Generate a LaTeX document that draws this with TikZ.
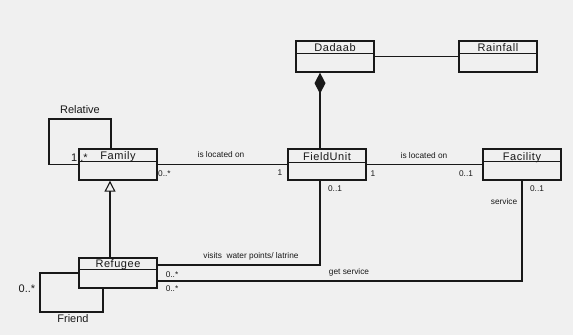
\documentclass[tikz,border=0pt]{standalone}
\usepackage{fontspec}
\setmainfont{Liberation Sans}
\newfontfamily\clsfont[LetterSpace=5]{Liberation Sans}
\usetikzlibrary{arrows.meta}
\definecolor{bg}{RGB}{240,240,240}
\definecolor{ink}{RGB}{25,25,25}
\tikzset{
  cls/.style={draw=ink, line width=1.4pt, minimum width=78pt, inner sep=0pt},
  clsname/.style={font=\clsfont\fontsize{11}{12}\selectfont, inner sep=0pt, anchor=base, text=ink},
  conn/.style={draw=ink, line width=1.2pt},
  lbl/.style={font=\fontsize{8.3}{9}\selectfont, inner sep=0pt, text=ink},
  biglbl/.style={font=\fontsize{11}{12}\selectfont, inner sep=0pt, text=ink},
}
\newcommand\umlclass[5]{%
  \node[cls, minimum height=#4] (#1) at #2 {};
  \node[clsname] (#1-name) at ([yshift=-#5+1.6pt]#1.north) {#3};
  \draw[draw=ink, line width=1.3pt] ([yshift=-#5]#1.north west) -- ([yshift=-#5]#1.north east);
}
\begin{document}
\begin{tikzpicture}[x=1pt,y=-1pt]
\fill[bg] (0,0) rectangle (573,335);
\useasboundingbox (0,0) rectangle (573,335);

\umlclass{family}{(118,164.5)}{Family}{31pt}{13pt}
\umlclass{fieldunit}{(327,164.5)}{FieldUnit}{31pt}{14pt}
\umlclass{facility}{(522,164.5)}{Facility}{31pt}{13.5pt}
\umlclass{dadaab}{(335,56.5)}{Dadaab}{31pt}{13pt}
\umlclass{rainfall}{(498,56.5)}{Rainfall}{31pt}{13pt}
\umlclass{refugee}{(118,273)}{Refugee}{30pt}{12pt}

% Relative self association
\draw[conn] ([xshift=-7pt]family.north) |- (49,119) |- (family.west);
% Family - FieldUnit
\draw[conn] (family.east) -- (fieldunit.west);
% Generalization
\draw[conn, -{Triangle[open, length=11pt, width=11pt, line width=1.1pt]}] ([xshift=-8pt]refugee.north) -- ([xshift=-8pt]family.south);
% Composition
\draw[conn, {Diamond[length=21pt, width=11pt]}-] ([xshift=-15pt]dadaab.south) -- ([xshift=-7pt]fieldunit.north);
% Dadaab - Rainfall
\draw[conn] (dadaab.east) -- (rainfall.west);
% FieldUnit - Facility
\draw[conn] (fieldunit.east) -- (facility.west);
% visits
\draw[conn] ([yshift=8pt]refugee.east) -| ([xshift=-7pt]fieldunit.south);
% get service
\draw[conn] ([yshift=-8pt]refugee.east) -| (facility.south);
% Friend
\draw[conn] (refugee.west) -| (40,312) -| ([xshift=-15pt]refugee.south);

% labels
\node[biglbl] (relative) at (80,110) {Relative};
\node[biglbl] (m1) at (79.5,158) {1..*};
\node[lbl] (loc1) at (221,155) {is located on};
\node[lbl, anchor=west] (m2) at (158,174) {0..*};
\node[lbl] (m3) at (280,173) {1};
\node[lbl] (loc2) at (424,156) {is located on};
\node[lbl] (m4) at (373,174) {1};
\node[lbl] (m5) at (466,174) {0..1};
\node[lbl] (m6) at (335,189) {0..1};
\node[lbl] (m7) at (537,189) {0..1};
\node[lbl] (svc) at (504,202) {service};
\node[lbl] (visits) at (251,256) {visits\ \ water points/ latrine};
\node[lbl] (m8) at (172,275) {0..*};
\node[lbl] (m9) at (172,289) {0..*};
\node[lbl] (gets) at (349,272) {get service};
\node[biglbl] (m10) at (27,289) {0..*};
\node[biglbl] (friend) at (73,319) {Friend};
\end{tikzpicture}
\end{document}
